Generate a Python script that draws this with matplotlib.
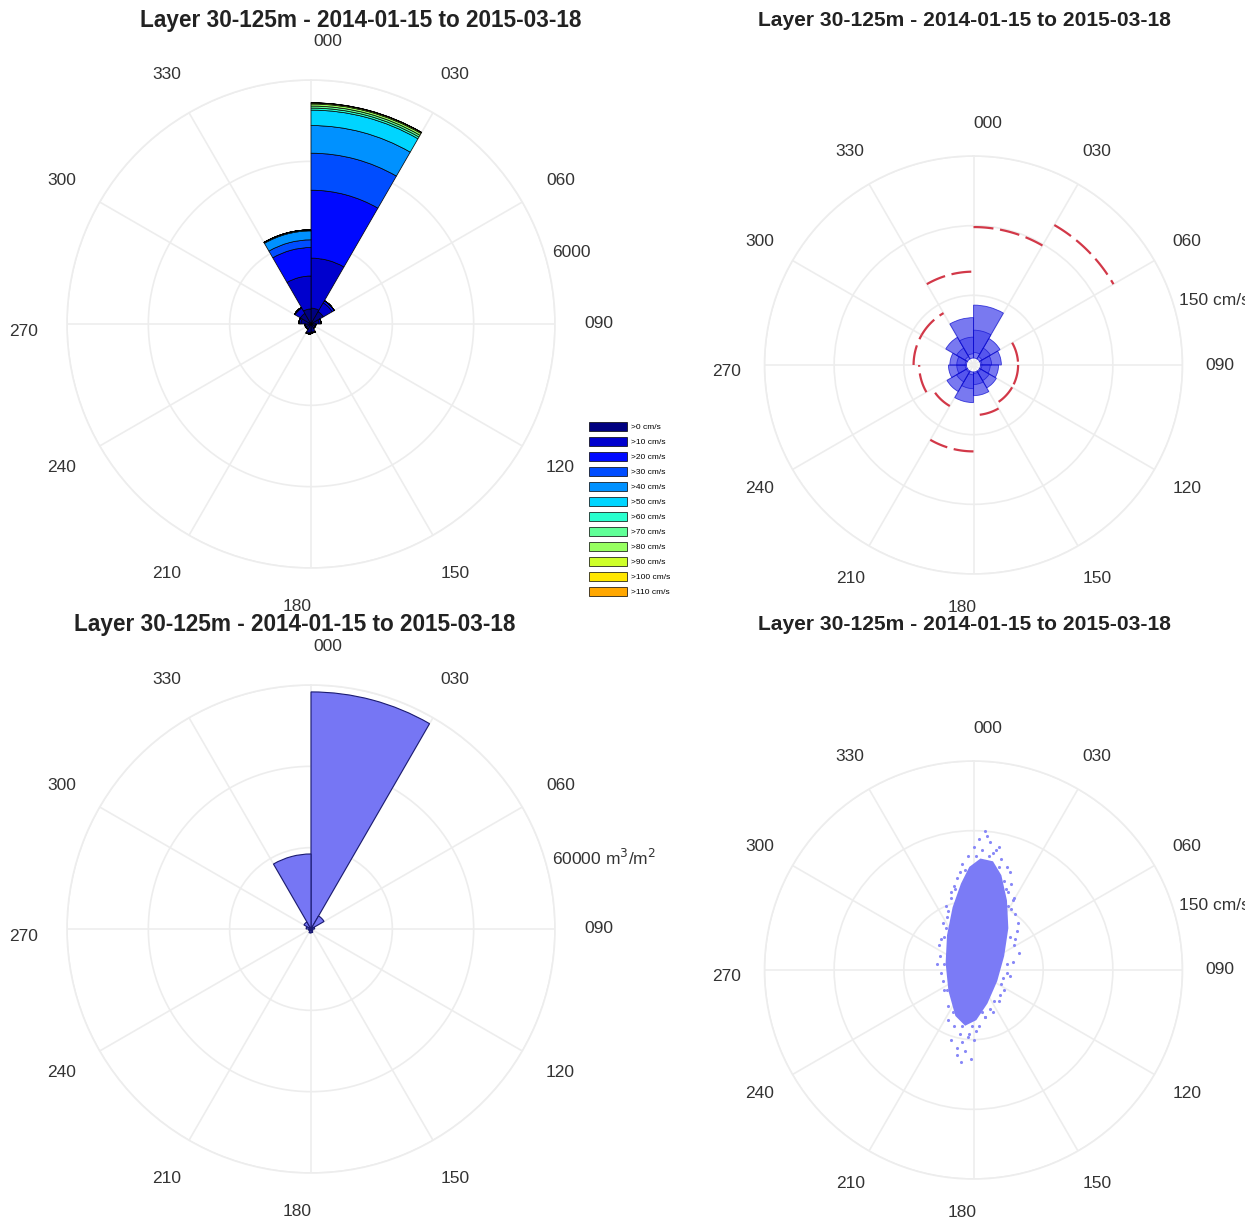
import numpy as np
import matplotlib.pyplot as plt

plt.rcParams['font.family'] = ['Liberation Sans', 'DejaVu Sans']

W, H = 1245, 1222

title = 'Layer 30-125m - 2014-01-15 to 2015-03-18'
dir_labels = ['000', '030', '060', '090', '120', '150', '180', '210', '240', '270', '300', '330']
sector_start = np.arange(0, 360, 30)

# --- top left: volume rose split in speed classes (m3/m2)
speed_classes = ['>0 cm/s', '>10 cm/s', '>20 cm/s', '>30 cm/s', '>40 cm/s', '>50 cm/s',
                 '>60 cm/s', '>70 cm/s', '>80 cm/s', '>90 cm/s', '>100 cm/s', '>110 cm/s']
# rows = sector (000, 030, ...), columns = speed class
rose_split = np.array([
    [390, 1230, 1670, 910, 680, 380, 50, 50, 50, 25, 5, 2],   # 000-030
    [350, 250, 60, 0, 0, 0, 0, 0, 0, 0, 0, 0],               # 030-060
    [200, 50, 0, 0, 0, 0, 0, 0, 0, 0, 0, 0],
    [110, 10, 0, 0, 0, 0, 0, 0, 0, 0, 0, 0],
    [110, 10, 0, 0, 0, 0, 0, 0, 0, 0, 0, 0],
    [200, 20, 0, 0, 0, 0, 0, 0, 0, 0, 0, 0],
    [220, 30, 0, 0, 0, 0, 0, 0, 0, 0, 0, 0],
    [140, 10, 0, 0, 0, 0, 0, 0, 0, 0, 0, 0],
    [140, 10, 0, 0, 0, 0, 0, 0, 0, 0, 0, 0],
    [250, 50, 0, 0, 0, 0, 0, 0, 0, 0, 0, 0],
    [300, 150, 20, 0, 0, 0, 0, 0, 0, 0, 0, 0],               # 300-330
    [370, 810, 700, 190, 220, 25, 0, 0, 0, 0, 0, 0],          # 330-360
])

# --- bottom left: total volume rose (m3/m2)
rose_total = [58300, 3700, 900, 500, 500, 900, 1000, 600, 600, 1200, 2000, 18450]

# --- top right: speed statistics per sector (cm/s)
spd_low = [5, 5, 5, 5, 5, 5, 5, 5, 5, 5, 5, 5]
spd_q1 = [9, 7, 6, 6, 6, 6, 7, 6, 6, 6, 7, 8]
spd_q3 = [25, 14, 13, 12, 13, 14, 17, 14, 12, 12, 14, 20]
spd_high = [43, 22, 20, 18, 19, 22, 27, 22, 18, 17, 23, 34]
spd_max = [99, 116, 32, 32, 32, 36, 62, 34, 39, 43, 43, 67]

# --- bottom right: current vectors (east, north) in cm/s
core_u = [5, 14, 20, 24, 25, 22, 17, 10, 2, -6, -13, -18, -20, -19, -15, -9, -3]
core_v = [80, 78, 68, 50, 30, 10, -8, -24, -36, -40, -33, -15, 5, 25, 45, 62, 74]
pts_u = [8, 4, 12, 0, 16, -4, 20, 10, 6, -8, 24, 18,
         27, 29, 30, 31, 29, 28, 26, 22, 18, 14, 25, 32, 33, 21, 24, 30, 27, 26,
         -12, -16, -20, -22, -23, -24, -23, -21, -18, -25, -26, -19, -14, -22,
         8, 2, -4, -10, -14, -16, -12, -8, -12, 4, -6, 0, 6, -18, -2, -9,
         22, 25, 26, 24, 20, 15, 8, -1, -8, -15, -19, -21, -21, -18, -13, -6, 2, 11, 18, 23,
         14, -10, 28, -20, 12, -3, 19, -16]
pts_v = [100, 94, 92, 88, 86, 82, 80, 96, 86, 76, 74, 88,
         62, 52, 40, 28, 18, 6, -4, -14, -22, -30, 56, 34, 12, -6, -2, 22, 44, 70,
         66, 56, 46, 34, 22, 10, -2, -14, -26, 18, 4, 38, 60, -8,
         -34, -44, -48, -46, -40, -50, -56, -52, -61, -40, -58, -50, -30, -36, -64, -66,
         64, 46, 24, 4, -10, -22, -34, -40, -40, -30, -14, 4, 24, 42, 58, 72, 82, 82, 74, 58,
         84, 70, 50, 30, -28, -46, -18, 52]

ring_col = '#ededed'
txt_col = '#333333'


def polar_panel(cx, cy, R, rmax, rings):
    ax = fig.add_axes([(cx - R) / W, 1 - (cy + R) / H, 2 * R / W, 2 * R / H], projection='polar')
    ax.set_theta_zero_location('N')
    ax.set_theta_direction(-1)
    ax.set_rlim(0, rmax)
    ax.set_rticks(rings)
    ax.set_yticklabels([])
    ax.set_xticks(np.deg2rad(sector_start))
    ax.set_xticklabels([])
    ax.set_axisbelow(True)
    ax.grid(True, color=ring_col, lw=1.2)
    ax.spines['polar'].set_color(ring_col)
    ax.spines['polar'].set_linewidth(1.2)
    ax.set_facecolor('none')
    for a, lab in zip(sector_start, dir_labels):
        tw = {0: 3.5, 180: 2.8, 270: -1.5}.get(a, 0)
        rr = 1.16 if a in (0, 180) else 1.18
        ax.text(np.deg2rad(a + tw), rr * rmax, lab, ha='center', va='center',
                fontsize=12.5, color=txt_col)
    return ax


fig = plt.figure(figsize=(W / 100, H / 100), dpi=100)

theta_c = np.deg2rad(sector_start + 15)
width = np.deg2rad(30)

# top left
ax1 = polar_panel(311, 324, 244, 6000, [2000, 4000, 6000])
colors = plt.cm.jet(np.arange(12) / 15)
bottom = np.zeros(12)
handles = []
for k in range(len(speed_classes)):
    b = ax1.bar(theta_c, rose_split[:, k], width=width, bottom=bottom, color=colors[k],
                edgecolor='black', lw=0.5, label=speed_classes[k])
    handles.append(b)
    bottom += rose_split[:, k]
ax1.text(np.deg2rad(73.5), 1.03 * 6000, '6000', ha='left', va='center', fontsize=12.5, color=txt_col)
fig.legend(handles=handles, labels=speed_classes, loc='upper left', bbox_to_anchor=(589 / W, 1 - 422 / H),
           frameon=False, fontsize=6, handlelength=4.6, handleheight=1.3, labelspacing=0.68,
           handletextpad=0.4, borderpad=0, borderaxespad=0)

# bottom left
ax3 = polar_panel(311, 929, 244, 60000, [20000, 40000, 60000])
ax3.bar(theta_c, rose_total, width=width, color='#7676f4', edgecolor='#1a1a70', lw=0.8)
ax3.text(np.deg2rad(73.5), 1.03 * 60000, '60000 m$^3$/m$^2$', ha='left', va='center',
         fontsize=12.5, color=txt_col)

# top right
ax2 = polar_panel(973.5, 365, 209, 150, [50, 100, 150])
q1 = np.array(spd_q1)
ax2.bar(theta_c, np.array(spd_high) - np.array(spd_low), width=width, bottom=spd_low,
        color=(0.25, 0.25, 0.92), alpha=0.7, edgecolor='#0000cc', lw=0.6)
ax2.bar(theta_c, np.array(spd_q3) - q1, width=width, bottom=q1,
        color=(0.25, 0.25, 0.92), alpha=0.6, edgecolor='#0000cc', lw=0.6)
for a, m in zip(sector_start, spd_max):
    th = np.deg2rad(np.linspace(a, a + 30, 40))
    ax2.plot(th, np.full(th.size, m), color='#d23848', lw=1.6, ls=(0, (9, 3)))
ax2.text(np.deg2rad(72.6), 1.03 * 150, '150 cm/s', ha='left', va='center', fontsize=12.5, color=txt_col)

# bottom right
ax4 = polar_panel(973.5, 970, 209, 150, [50, 100, 150])
cu, cv = np.array(core_u), np.array(core_v)
ax4.fill(np.arctan2(cu, cv), np.hypot(cu, cv), color='#7b7bf6', lw=0)
pu, pv = np.array(pts_u), np.array(pts_v)
ax4.scatter(np.arctan2(pu, pv), np.hypot(pu, pv), s=5, color='#8888f7', lw=0)
ax4.text(np.deg2rad(72.6), 1.03 * 150, '150 cm/s', ha='left', va='center', fontsize=12.5, color=txt_col)

for x, y, fs in [(361, 20, 16.3), (964, 20, 15.1), (295, 625, 16.3), (964, 625, 15.1)]:
    fig.text(x / W, 1 - y / H, title, ha='center', va='center', fontsize=fs, fontweight='bold', color='#222222')

fig.savefig('out.png', dpi=100)
